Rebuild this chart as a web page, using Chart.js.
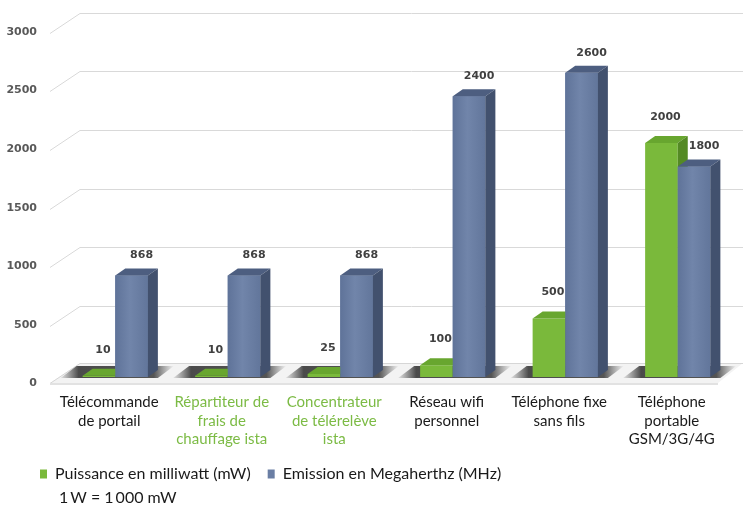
<!DOCTYPE html>
<html lang="fr">
<head>
<meta charset="utf-8">
<title>Puissance et émission des appareils</title>
<script src="https://cdn.jsdelivr.net/npm/chart.js@4.4.1/dist/chart.umd.min.js"></script>
<style>
    html, body { margin: 0; padding: 0; background: #fff; }
    #wrap { width: 743px; height: 508px; }
</style>
</head>
<body>
<div id="wrap"><canvas id="chart" width="743" height="508"></canvas></div>
<script>
    // ===== Data =====
    const categories = [
        ['Télécommande', 'de portail'],
        ['Répartiteur de', 'frais de', 'chauffage ista'],
        ['Concentrateur', 'de télérelève', 'ista'],
        ['Réseau wifi', 'personnel'],
        ['Téléphone fixe', 'sans fils'],
        ['Téléphone', 'portable', 'GSM/3G/4G']
    ];
    const puissance = [10, 10, 25, 100, 500, 2000];    // mW
    const emission = [868, 868, 868, 2400, 2600, 1800]; // MHz
    const yTicks = [0, 500, 1000, 1500, 2000, 2500, 3000];
    const istaProducts = [1, 2]; // category indexes written in green

    // ===== 3D look =====
    const DX = 10, DY = -7;           // bar depth
    const GREEN = { front: '#7ab93b', top: '#68a62f', side: '#548a24' };
    const BLUE = { front: '#6a7ea4', top: '#4d5e80', side: '#42516e' };

    function face(ctx, pts, fill) {
        ctx.beginPath();
        ctx.moveTo(pts[0][0], pts[0][1]);
        pts.slice(1).forEach(p => ctx.lineTo(p[0], p[1]));
        ctx.closePath();
        ctx.fillStyle = fill;
        ctx.fill();
    }

    function box(ctx, el, col, redrawFront) {
        const l = el.x - el.width / 2, r = el.x + el.width / 2;
        const t = el.y, b = el.base;
        if (redrawFront) {
            const g = ctx.createLinearGradient(l, 0, r, 0);
            g.addColorStop(0, '#5f7399');
            g.addColorStop(0.45, '#7185aa');
            g.addColorStop(1, '#62769b');
            ctx.fillStyle = g;
            ctx.fillRect(l, t, r - l, b - t);
        }
        face(ctx, [[l, t], [l + DX, t + DY], [r + DX, t + DY], [r, t]], col.top);
        face(ctx, [[r, t], [r + DX, t + DY], [r + DX, b + DY], [r, b]], col.side);
    }

    const threeD = {
        id: 'threeD',
        beforeDatasetsDraw(chart) {
            const { ctx } = chart;
            const y = chart.scales.y;
            const base = y.getPixelForValue(0);
            ctx.save();

            // back wall grid lines with the left diagonal, labels on the front edge
            ctx.strokeStyle = '#d9d9d9';
            ctx.lineWidth = 1;
            ctx.font = 'bold 11px "DejaVu Sans"';
            ctx.textAlign = 'right';
            ctx.textBaseline = 'middle';
            yTicks.forEach(v => {
                const py = Math.round(y.getPixelForValue(v)) + 0.5;
                ctx.fillStyle = '#595959';
                ctx.fillText(String(v), 37, py + 6);
                if (v === 0) return;
                ctx.beginPath();
                ctx.moveTo(50, py + 7);
                ctx.lineTo(80, py - 13);
                ctx.lineTo(chart.width, py - 13);
                ctx.stroke();
            });

            // floor
            face(ctx, [[50, base + 6], [80, base - 14], [chart.width, base - 14], [chart.width - 25, base + 6]], '#f3f3f3');
            ctx.strokeStyle = '#d6d6d6';
            ctx.beginPath();
            ctx.moveTo(50, base + 6.5); ctx.lineTo(80, base - 13.5); ctx.lineTo(chart.width, base - 13.5);
            ctx.stroke();
            ctx.fillStyle = '#e2e2e2';
            ctx.fillRect(50, base + 6, chart.width - 75, 2);

            // shadows under each group
            const g0 = chart.getDatasetMeta(0).data, g1 = chart.getDatasetMeta(1).data;
            g0.forEach((el, i) => {
                const l = el.x - el.width / 2;
                const r = g1[i].x + g1[i].width / 2;
                const grad = ctx.createLinearGradient(l - 24, 0, r + 26, 0);
                const w = r - l + 50;
                grad.addColorStop(0, 'rgba(60,60,60,0)');
                grad.addColorStop(20 / w, 'rgba(45,45,45,0.85)');
                grad.addColorStop((r - l + 30) / w, 'rgba(45,45,45,0.8)');
                grad.addColorStop(1, 'rgba(60,60,60,0)');
                face(ctx, [[l - 22, base + 1], [l - 6, base - 11], [r + 26, base - 11], [r + 10, base + 1]], grad);
            });
            ctx.restore();
        },
        afterDatasetsDraw(chart) {
            const { ctx } = chart;
            const green = chart.getDatasetMeta(0).data;
            const blue = chart.getDatasetMeta(1).data;
            ctx.save();
            green.forEach(el => box(ctx, el, GREEN, false));
            blue.forEach(el => box(ctx, el, BLUE, true));

            // value labels
            ctx.font = 'bold 11px "DejaVu Sans"';
            ctx.fillStyle = '#404040';
            ctx.textAlign = 'center';
            ctx.textBaseline = 'middle';
            green.forEach((el, i) => ctx.fillText(String(puissance[i]), el.x + 4, el.y - 26));
            blue.forEach((el, i) => ctx.fillText(String(emission[i]), el.x + 10, el.y - 20));
            ctx.restore();
        }
    };

    new Chart(document.getElementById('chart'), {
        type: 'bar',
        data: {
            labels: categories,
            datasets: [
                { label: 'Puissance en milliwatt (mW)', data: puissance, backgroundColor: GREEN.front, borderWidth: 0 },
                { label: 'Emission en Megaherthz (MHz)', data: emission, backgroundColor: BLUE.front, borderWidth: 0 }
            ]
        },
        options: {
            responsive: false,
            animation: false,
            layout: { padding: { top: 26, left: 23, right: 9, bottom: 0 } },
            datasets: { bar: { barPercentage: 1, categoryPercentage: 0.58 } },
            scales: {
                x: {
                    grid: { display: false, drawTicks: false },
                    border: { display: false },
                    ticks: {
                        autoSkip: false,
                        maxRotation: 0,
                        padding: 16,
                        labelOffset: -6,
                        color: c => istaProducts.includes(c.index) ? '#7cbb45' : '#1a1a1a',
                        font: { family: 'Lato', size: 15, lineHeight: 1.23 }
                    },
                    afterFit: s => { s.height = 72; }
                },
                y: {
                    min: 0,
                    max: 3000,
                    grid: { display: false, drawTicks: false },
                    border: { display: false },
                    afterBuildTicks: s => { s.ticks = yTicks.map(v => ({ value: v })); },
                    ticks: { display: false },
                    afterFit: s => { s.width = 36; }
                }
            },
            plugins: {
                tooltip: { enabled: false },
                legend: {
                    position: 'bottom',
                    align: 'start',
                    maxHeight: 41,
                    labels: {
                        boxWidth: 7,
                        boxHeight: 9,
                        padding: 17,
                        color: '#1a1a1a',
                        font: { family: 'Lato', size: 16 }
                    }
                },
                subtitle: {
                    display: true,
                    text: '1\u2009W = 1\u2009000 mW',
                    position: 'bottom',
                    align: 'start',
                    fullSize: false,
                    color: '#1a1a1a',
                    font: { family: 'Lato', size: 16, weight: 'normal', lineHeight: 1 },
                    padding: { top: 0, bottom: 2 }
                }
            }
        },
        plugins: [threeD]
    });
</script>
</body>
</html>
